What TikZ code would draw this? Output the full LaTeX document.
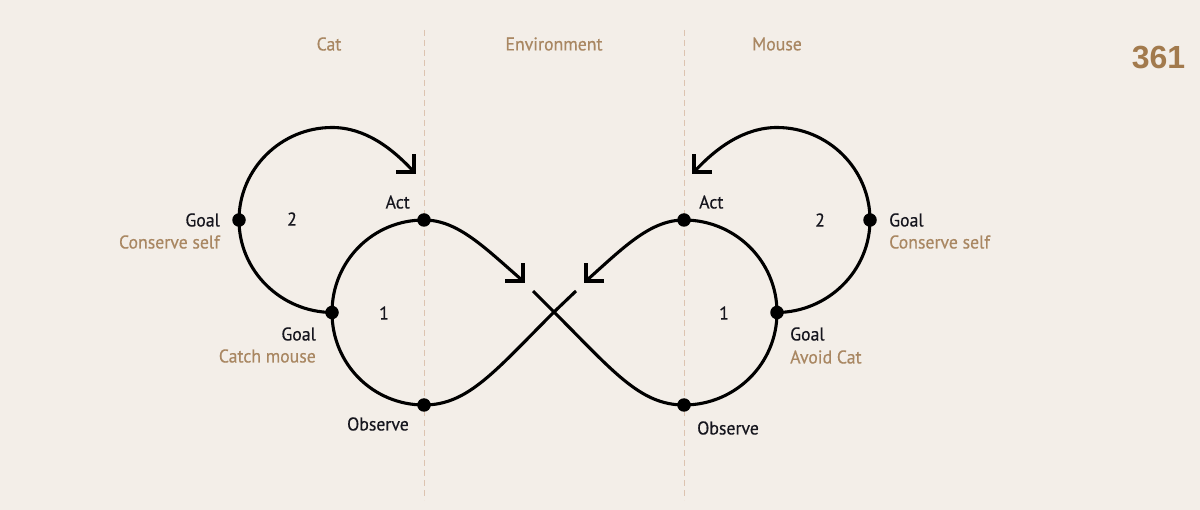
\documentclass[tikz,border=0pt]{standalone}
\usepackage{fontspec}
\setmainfont{PT Sans}[FakeStretch=0.96,FakeBold=0.45]
\newfontfamily\numfont{Liberation Sans}
\definecolor{bgcol}{HTML}{F3EEE8}
\definecolor{tancol}{HTML}{A98762}
\definecolor{inkcol}{HTML}{16161E}
\definecolor{divcol}{HTML}{DCC3B0}
\definecolor{pagecol}{HTML}{A27A4D}
\tikzset{
  x=1pt,y=-1pt,
  dotnode/.style={circle,fill=black,inner sep=0pt,minimum size=13.5pt},
  curveline/.style={line width=3.1pt,black},
  barbline/.style={line width=3.1pt,black,line cap=butt,line join=miter},
  divider/.style={draw=divcol,line width=0.9pt,dash pattern=on 6pt off 4pt},
  lablabel/.style={text=inkcol,font=\fontsize{18.5}{20}\selectfont,inner sep=0pt},
  sublabel/.style={text=tancol,font=\fontsize{18.5}{20}\selectfont,inner sep=0pt},
  headlabel/.style={text=tancol,font=\fontsize{18.5}{20}\selectfont,inner sep=0pt},
}
\begin{document}
\begin{tikzpicture}
\path[use as bounding box,fill=bgcol] (0,0) rectangle (1200,510);
% dividers
\coordinate (d1a) at (424,30); \coordinate (d1b) at (424,500);
\coordinate (d2a) at (684,30); \coordinate (d2b) at (684,500);
\draw[divider] (d1a) -- (d1b);
\draw[divider] (d2a) -- (d2b);
% anchor points
\coordinate (actL) at (424,220);
\coordinate (goalL) at (332,312.5);
\coordinate (obsL) at (424,405);
\coordinate (goalLL) at (239,220);
\coordinate (actR) at (684,220);
\coordinate (goalR) at (777,312.5);
\coordinate (obsR) at (684,405);
\coordinate (goalRR) at (870,220);
\coordinate (cross) at (554,312);
\coordinate (endA) at (576,291);
\coordinate (endB) at (533,291);
\coordinate (tipA) at (523,281);
\coordinate (tipB) at (586,281);
\coordinate (tipC) at (414,172);
\coordinate (tipD) at (694,172);
% small loop left
\draw[curveline] (actL) .. controls (373,220) and (332,261) .. (goalL)
  .. controls (332,364) and (373,405) .. (obsL)
  .. controls (468,405) and (495,371) .. (cross) -- (endA);
\draw[curveline] (actL) .. controls (458,220) and (485,248) .. (tipA);
% small loop right
\draw[curveline] (actR) .. controls (735,220) and (777,261) .. (goalR)
  .. controls (777,364) and (735,405) .. (obsR)
  .. controls (640,405) and (613,371) .. (cross) -- (endB);
\draw[curveline] (actR) .. controls (650,220) and (623,248) .. (tipB);
% large loop left
\draw[curveline] (goalL) .. controls (281,312) and (239,271) .. (goalLL)
  .. controls (239,169) and (281,127.5) .. (332,127.5)
  .. controls (365,127.5) and (392,148) .. (tipC);
% large loop right
\draw[curveline] (goalR) .. controls (828,312) and (870,271) .. (goalRR)
  .. controls (870,169) and (828,127.5) .. (777,127.5)
  .. controls (744,127.5) and (716,148) .. (tipD);
% arrow barbs
\draw[barbline] ([xshift=-18pt]tipA) -- (tipA) -- ([yshift=18pt]tipA);
\draw[barbline] ([xshift=18pt]tipB) -- (tipB) -- ([yshift=18pt]tipB);
\draw[barbline] ([xshift=-18pt]tipC) -- (tipC) -- ([yshift=18pt]tipC);
\draw[barbline] ([xshift=18pt]tipD) -- (tipD) -- ([yshift=18pt]tipD);
% dots
\foreach \p/\n in {actL/a,goalL/b,obsL/c,goalLL/d,actR/e,goalR/f,obsR/g,goalRR/h}
  \node[dotnode] (dot\n) at (\p) {};
% headers
\node[headlabel] (hCat) at (329,44) {Cat};
\node[headlabel] (hEnv) at (554,44) {Environment};
\node[headlabel] (hMouse) at (777,44) {Mouse};
\node[text=pagecol,inner sep=0pt,font=\numfont\bfseries\fontsize{32}{34}\selectfont] (page) at (1158.5,58) {361};
% left labels
\node[lablabel,anchor=east] (t1) at (220,220) {Goal};
\node[sublabel,anchor=east] (t2) at (220,242) {Conserve self};
\node[lablabel,anchor=east] (t3) at (410,202) {Act};
\node[lablabel] (t4) at (292,219) {2};
\node[lablabel] (t5) at (384,313) {1};
\node[lablabel,anchor=east] (t6) at (316,334) {Goal};
\node[sublabel,anchor=east] (t7) at (316,356) {Catch mouse};
\node[lablabel,anchor=east] (t8) at (409,424) {Observe};
% right labels
\node[lablabel,anchor=west] (t9) at (699,202) {Act};
\node[lablabel] (t10) at (820,220) {2};
\node[lablabel] (t11) at (724,313) {1};
\node[lablabel,anchor=west] (t12) at (889,220) {Goal};
\node[sublabel,anchor=west] (t13) at (889,242) {Conserve self};
\node[lablabel,anchor=west] (t14) at (790,334) {Goal};
\node[sublabel,anchor=west] (t15) at (790,357) {Avoid Cat};
\node[lablabel,anchor=west] (t16) at (697,428) {Observe};
\end{tikzpicture}
\end{document}
